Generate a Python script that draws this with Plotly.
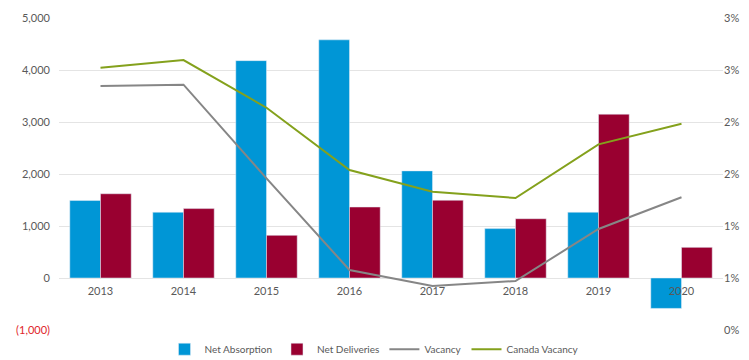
import plotly.graph_objects as go

years = ["2013", "2014", "2015", "2016", "2017", "2018", "2019", "2020"]
net_absorption = [1490, 1265, 4180, 4580, 2060, 950, 1265, -585]
net_deliveries = [1620, 1335, 820, 1365, 1495, 1140, 3150, 590]
vacancy = [0.02346, 0.02359, 0.01458, 0.00577, 0.00423, 0.00471, 0.00971, 0.01276]
canada_vacancy = [0.02522, 0.02596, 0.02137, 0.01538, 0.01330, 0.01269, 0.01785, 0.01984]

left_ticks = [-1000, 0, 1000, 2000, 3000, 4000, 5000]
left_labels = ['<span style="color:#e0262b">(1,000)</span>', "0", "1,000", "2,000", "3,000", "4,000", "5,000"]
right_ticks = [0, 0.005, 0.01, 0.015, 0.02, 0.025, 0.03]
right_labels = ["0%", "1%", "1%", "2%", "2%", "3%", "3%"]

BLUE = "#0096d6"
RED = "#990030"
GRAY = "#868686"
GREEN = "#84a11c"
TXT = "#595959"

fig = go.Figure()
fig.add_trace(go.Bar(x=years, y=net_absorption, name="Net Absorption", marker_color=BLUE, yaxis="y"))
fig.add_trace(go.Bar(x=years, y=net_deliveries, name="Net Deliveries", marker_color=RED, yaxis="y"))
fig.add_trace(go.Scatter(x=years, y=vacancy, name="Vacancy", mode="lines",
                         line=dict(color=GRAY, width=2), yaxis="y2"))
fig.add_trace(go.Scatter(x=years, y=canada_vacancy, name="Canada Vacancy", mode="lines",
                         line=dict(color=GREEN, width=2), yaxis="y2"))

fig.update_layout(
    width=749, height=360,
    margin=dict(l=59, r=26, t=18, b=30, autoexpand=False),
    paper_bgcolor="white", plot_bgcolor="white",
    font=dict(family="Lato, sans-serif", size=11, color=TXT),
    barmode="group", bargap=0.26, bargroupgap=0,
    showlegend=True,
    legend=dict(orientation="h", x=0.5, xref="container", xanchor="center",
                y=0.03, yref="container", yanchor="middle",
                font=dict(size=10, color=TXT), itemwidth=30, tracegroupgap=0),
    xaxis=dict(type="category", anchor="free", position=1/6, showgrid=False,
               showline=False, ticks="", ticklabelstandoff=5,
               tickfont=dict(size=11, color=TXT)),
    yaxis=dict(range=[-1000, 5000], tickvals=left_ticks, ticktext=left_labels,
               showgrid=True, gridcolor="#e4e4e4", gridwidth=1, zeroline=False,
               showline=False, ticks="", ticklabelstandoff=8,
               tickfont=dict(size=11, color=TXT)),
    yaxis2=dict(range=[0, 0.03], tickvals=right_ticks, ticktext=right_labels,
                overlaying="y", side="right", showgrid=False, zeroline=False,
                showline=False, ticks="", tickfont=dict(size=11, color=TXT)),
)

fig.write_html("out.html")
